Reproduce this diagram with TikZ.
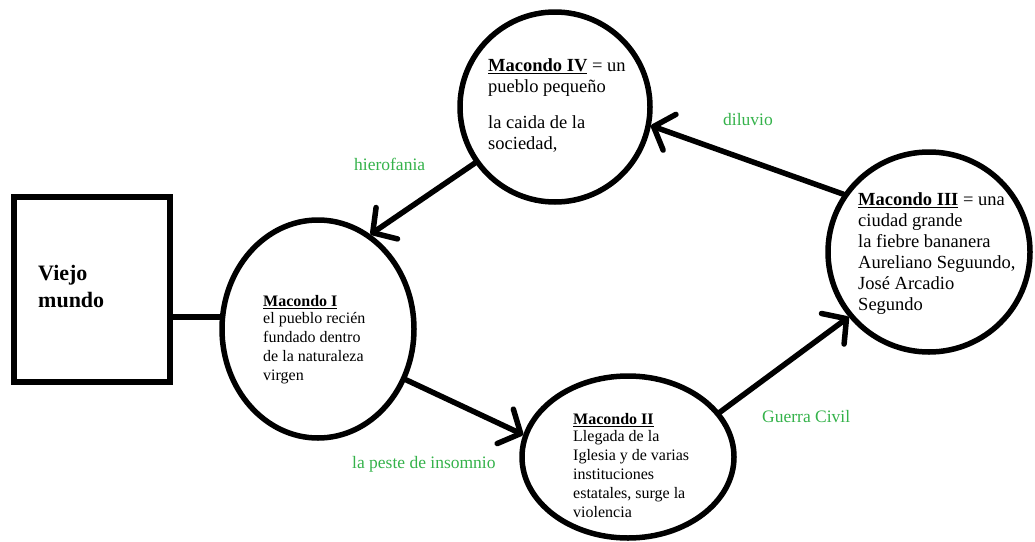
\documentclass[tikz,border=0pt]{standalone}
\usepackage{fontspec}
\setmainfont{Liberation Serif}
\usetikzlibrary{arrows.meta,shapes.geometric}
\definecolor{lblgreen}{RGB}{52,178,74}
\tikzset{
 stage/.style={draw, ellipse, line width=5.5pt, inner sep=0pt},
 box/.style={draw, rectangle, line width=6pt, inner sep=0pt},
 bigtxt/.style={anchor=north west, align=left, inner sep=0pt, font=\fontsize{18.5}{21}\selectfont},
 smalltxt/.style={anchor=north west, align=left, inner sep=0pt, font=\fontsize{16}{19}\selectfont},
 lbl/.style={anchor=base west, inner sep=0pt, text=lblgreen, font=\fontsize{17.5}{20}\selectfont},
 flow/.style={line width=5.5pt, line cap=round, -{Straight Barb[length=17pt,width=38pt,round]}},
 link/.style={line width=5.5pt}
}
\begin{document}
\begin{tikzpicture}[x=1pt,y=-1pt]
\useasboundingbox (0,0) rectangle (1035,541);
% shapes
\node[box, minimum width=156pt, minimum height=185pt] (vm) at (92,289.5) {};
\node[stage, minimum width=192pt, minimum height=218pt] (i) at (318,329) {};
\node[stage, minimum width=212pt, minimum height=162pt] (ii) at (628,457) {};
\node[stage, minimum width=202pt, minimum height=200pt] (iii) at (929,252) {};
\node[stage, minimum width=190pt, minimum height=190pt] (iv) at (555,107) {};
% texts
\node[anchor=north west, align=left, inner sep=0pt, font=\fontsize{22}{27}\selectfont\bfseries] (vmt) at (38,265) {Viejo\\mundo};
\node[smalltxt] (t1) at (263,295) {\underline{\textbf{Macondo I}}\\[-2pt]el pueblo recién\\fundado dentro\\de la naturaleza\\virgen};
\node[smalltxt] (t2) at (573,413) {\underline{\textbf{Macondo II}}\\[-2pt]Llegada de la\\Iglesia y de varias\\instituciones\\estatales, surge la\\violencia};
\node[bigtxt] (t3) at (858,192.5) {\underline{\textbf{Macondo III}} = una\\ciudad grande\\la fiebre bananera\\Aureliano Seguundo,\\José Arcadio\\Segundo};
\node[bigtxt] (t4) at (488,58.5) {\underline{\textbf{Macondo IV}} = un\\pueblo pequeño\\[15pt]la caida de la\\sociedad,};
% labels
\node[lbl] (l1) at (354,170) {hierofania};
\node[lbl] (l2) at (723,125) {diluvio};
\node[lbl] (l3) at (762,422) {Guerra Civil};
\node[lbl] (l4) at (352,468) {la peste de insomnio};
% connectors
\draw[link] (vm.east |- i.173) -- (i.173);
\draw[flow] (iv.215) -- (i.61.6);
\draw[flow] (i.-30.8) -- (ii.168);
\draw[flow] (ii.26) -- (iii.219.4);
\draw[flow] (iii.146.6) -- (iv.-11.6);
\end{tikzpicture}
\end{document}
